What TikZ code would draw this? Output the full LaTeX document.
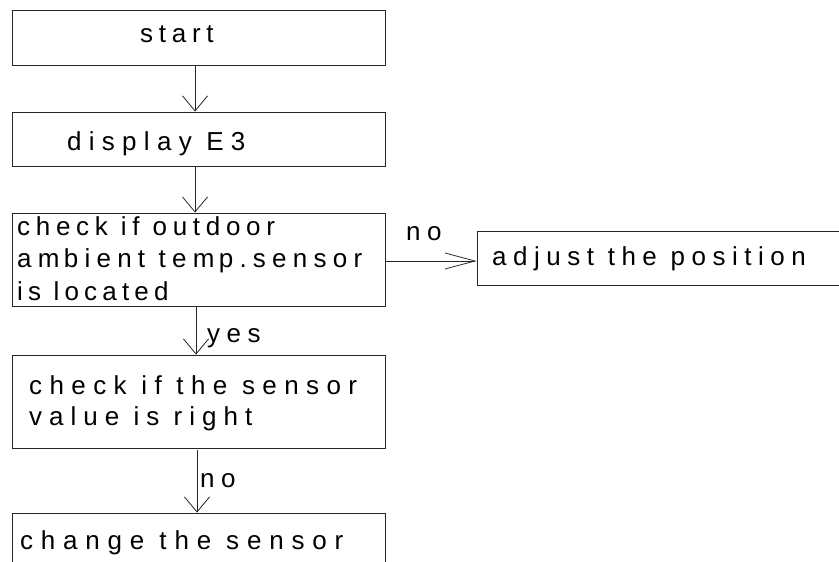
\documentclass[tikz,border=0pt]{standalone}
\usepackage{fontspec}
\setmainfont{Liberation Sans}[LetterSpace=25]
\usetikzlibrary{arrows.meta}
\begin{document}
\begin{tikzpicture}[x=1pt,y=-1pt,
  box/.style={draw=black!85, line width=0.9pt, minimum width=373pt, inner sep=0pt},
  txt/.style={anchor=base west, inner sep=0pt, font=\fontsize{26}{30}\selectfont\addfontfeatures{LetterSpace=#1}},
  txt/.default=25,
  varr/.style={draw=black!85, line width=0.8pt, -{Straight Barb[length=15pt,width=25pt,line width=0.8pt]}},
  harr/.style={draw=black!85, line width=0.8pt, -{Straight Barb[length=30pt,width=16pt,line width=0.8pt]}}]
\useasboundingbox (0,0) rectangle (839,562);
\clip (0,0) rectangle (839,562);
\fill[white] (0,0) rectangle (839,562);
% boxes
\node[box, minimum height=55pt] (start) at (198.5,37.5) {};
\node[box, minimum height=54pt] (disp) at (198.5,139) {};
\node[box, minimum height=93pt] (check) at (198.5,259.5) {};
\node[box, minimum width=423pt, minimum height=54pt] (adjust) at (688.5,258) {};
\node[box, minimum height=93pt] (value) at (198.5,401.5) {};
\node[box, minimum height=87pt] (change) at (198.5,556.5) {};
% texts
\node[txt=22] (t1) at (140,42) {start};
\node[txt=28] (t2) at (67,150) {display E3};
\node[txt=22] (t3a) at (17,235) {check if outdoor};
\node[txt=24] (t3b) at (17,267) {am\,bient tem\,p.sensor};
\node[txt=20] (t3c) at (17,300) {is located};
\node[txt=25] (t4) at (492,265) {adjust the position};
\node[txt=28.5] (t5a) at (29,394) {check if the sensor};
\node[txt=27] (t5b) at (29,425) {value is right};
\node[txt=30] (t6) at (20,549) {change the sensor};
\node[txt] (lno1) at (406,240) {no};
\node[txt] (lyes) at (207,342) {yes};
\node[txt] (lno2) at (200,487) {no};
% connectors
\draw[varr] ([xshift=-3.5pt]start.south) -- ([xshift=-3.5pt]disp.north);
\draw[varr] ([xshift=-3.5pt]disp.south) -- ([xshift=-3.5pt]check.north);
\draw[harr] ([yshift=-1.5pt]check.east) -- ([yshift=-1.5pt]check.east -| adjust.west);
\draw[varr] ([xshift=-2.5pt]check.south) -- ([xshift=-2.5pt]value.north);
\draw[varr] ([xshift=-1.5pt,yshift=-2pt]value.south) -- ([xshift=-1.5pt]change.north);
\end{tikzpicture}
\end{document}
